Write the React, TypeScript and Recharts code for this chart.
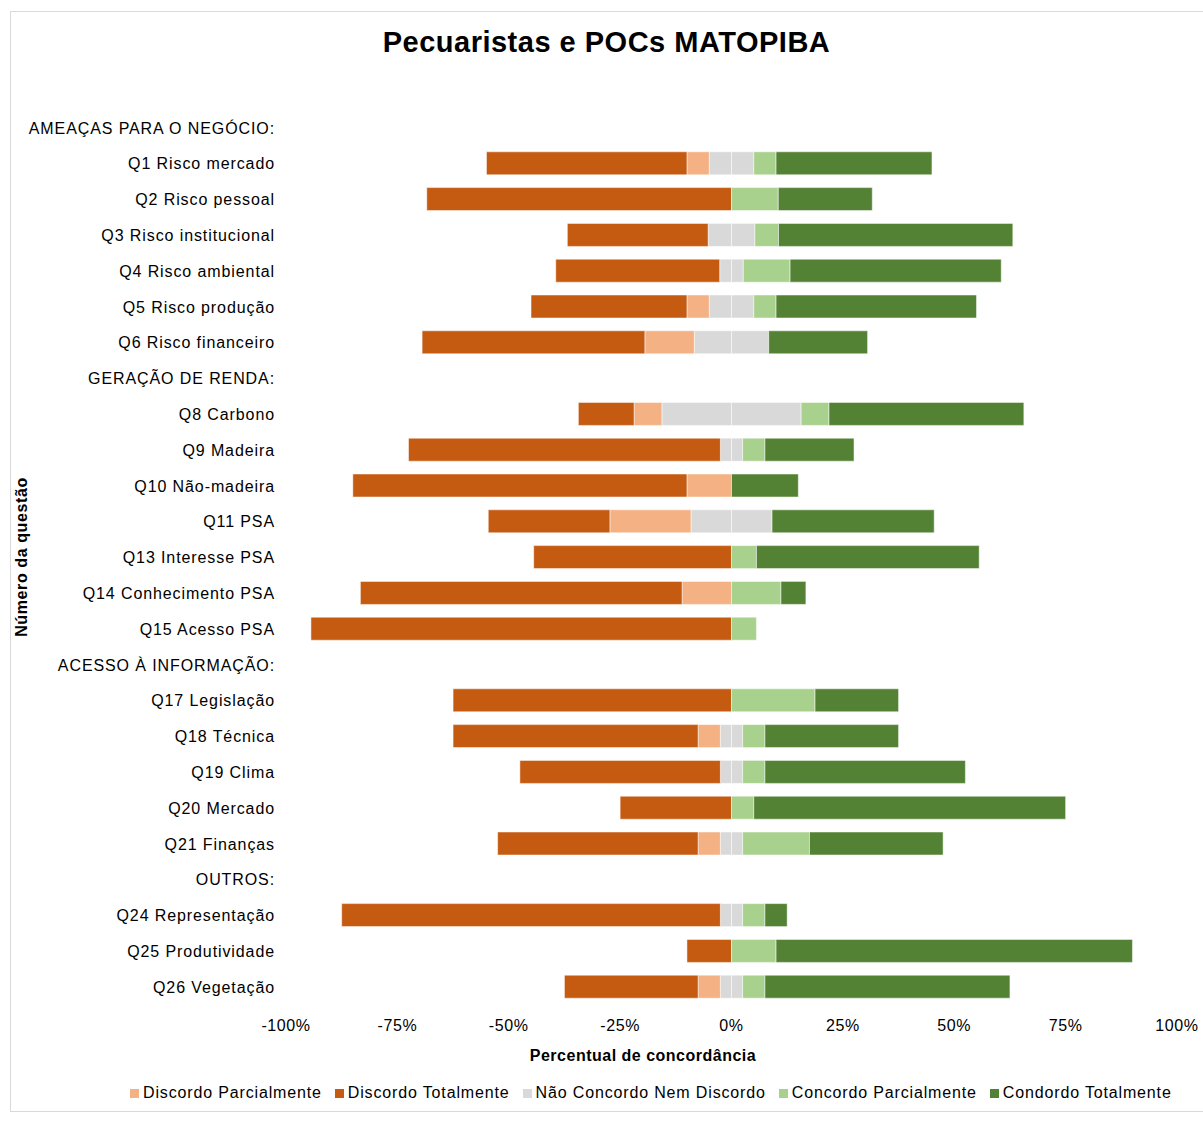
import { BarChart, Bar, XAxis, YAxis } from 'recharts';

const FONT = "'Liberation Sans', Arial, sans-serif";

const categories = [
  'AMEAÇAS PARA O NEGÓCIO:',
  'Q1 Risco mercado',
  'Q2 Risco pessoal',
  'Q3 Risco institucional',
  'Q4 Risco ambiental',
  'Q5 Risco produção',
  'Q6 Risco financeiro',
  'GERAÇÃO DE RENDA:',
  'Q8 Carbono',
  'Q9 Madeira',
  'Q10 Não-madeira',
  'Q11 PSA',
  'Q13 Interesse PSA',
  'Q14 Conhecimento PSA',
  'Q15 Acesso PSA',
  'ACESSO À INFORMAÇÃO:',
  'Q17 Legislação',
  'Q18 Técnica',
  'Q19 Clima',
  'Q20 Mercado',
  'Q21 Finanças',
  'OUTROS:',
  'Q24 Representação',
  'Q25 Produtividade',
  'Q26 Vegetação',
];

// percentages per question (section header rows have no data)
const discordoTotalmente = [null, 45, 68.4, 31.6, 36.8, 35, 50, null, 12.5, 70, 75, 27.3, 44.4, 72.2, 94.4, null, 62.5, 55, 45, 25, 45, null, 85, 10, 30];
const discordoParcialmente = [null, 5, 0, 0, 0, 5, 11.1, null, 6.25, 0, 10, 18.2, 0, 11.1, 0, null, 0, 5, 0, 0, 5, null, 0, 0, 5];
const neutro = [null, 10, 0, 10.5, 5.3, 10, 16.7, null, 31.25, 5, 0, 18.2, 0, 0, 0, null, 0, 5, 5, 0, 5, null, 5, 0, 5];
const concordoParcialmente = [null, 5, 10.5, 5.3, 10.5, 5, 0, null, 6.25, 5, 0, 0, 5.6, 11.1, 5.6, null, 18.75, 5, 5, 5, 15, null, 5, 10, 5];
const concordoTotalmente = [null, 35, 21.1, 52.6, 47.4, 45, 22.2, null, 43.75, 20, 15, 36.4, 50, 5.6, 0, null, 18.75, 30, 45, 70, 30, null, 5, 80, 55];

const xTicks = [-100, -75, -50, -25, 0, 25, 50, 75, 100];

const COLORS = {
  dp: '#F4B183',
  dt: '#C55A11',
  nt: '#D9D9D9',
  cp: '#A9D18E',
  ct: '#548235',
};

const legendItems = [
  { name: 'Discordo Parcialmente', color: COLORS.dp },
  { name: 'Discordo Totalmente', color: COLORS.dt },
  { name: 'Não Concordo Nem Discordo', color: COLORS.nt },
  { name: 'Concordo Parcialmente', color: COLORS.cp },
  { name: 'Condordo Totalmente', color: COLORS.ct },
];

const data = categories.map((name, i) => {
  const n = neutro[i] ?? 0;
  return {
    name,
    ntL: -n / 2,
    dp: -(discordoParcialmente[i] ?? 0),
    dt: -(discordoTotalmente[i] ?? 0),
    ntR: n / 2,
    cp: concordoParcialmente[i] ?? 0,
    ct: concordoTotalmente[i] ?? 0,
  };
});

function CategoryTick({ x, y, payload }: any) {
  return (
    <text
      x={x}
      y={y}
      dy="0.36em"
      textAnchor="end"
      fill="#000"
      style={{ fontFamily: FONT, fontSize: 16, letterSpacing: 0.9 }}
    >
      {payload.value}
    </text>
  );
}

export default function App() {
  const barProps = {
    stackId: 'a',
    isAnimationActive: false,
    stroke: '#fff',
    strokeWidth: 0.5,
  };

  return (
    <div
      style={{
        position: 'absolute',
        left: 0,
        top: 0,
        width: 1203,
        height: 1121,
        overflow: 'hidden',
        background: '#fff',
        fontFamily: FONT,
      }}
    >
      <div
        style={{
          position: 'absolute',
          left: 10,
          top: 11,
          width: 1220,
          height: 1099,
          border: '1px solid #D9D9D9',
        }}
      />
      <div
        style={{
          position: 'absolute',
          left: 10,
          width: 1193,
          top: 28,
          textAlign: 'center',
          fontSize: 29,
          fontWeight: 'bold',
          lineHeight: 1,
          letterSpacing: 0.5,
        }}
      >
        Pecuaristas e POCs MATOPIBA
      </div>

      <div style={{ position: 'absolute', left: 0, top: 0 }}>
        <BarChart
          width={1203}
          height={1121}
          data={data}
          layout="vertical"
          stackOffset="sign"
          barSize={23}
          margin={{ top: 110, right: 26, bottom: 0, left: 0 }}
        >
          <XAxis
            type="number"
            domain={[-100, 100]}
            ticks={xTicks}
            tickFormatter={(v: number) => `${v}%`}
            axisLine={false}
            tickLine={false}
            tickMargin={9}
            height={116}
            tick={{ fill: '#000', fontSize: 16, fontFamily: FONT, letterSpacing: 0.6 } as any}
          />
          <YAxis
            type="category"
            dataKey="name"
            width={286}
            interval={0}
            axisLine={false}
            tickLine={false}
            tickMargin={5}
            tick={<CategoryTick />}
          />
          <Bar dataKey="ntL" fill={COLORS.nt} {...barProps} />
          <Bar dataKey="dp" fill={COLORS.dp} {...barProps} />
          <Bar dataKey="dt" fill={COLORS.dt} {...barProps} />
          <Bar dataKey="ntR" fill={COLORS.nt} {...barProps} />
          <Bar dataKey="cp" fill={COLORS.cp} {...barProps} />
          <Bar dataKey="ct" fill={COLORS.ct} {...barProps} />
        </BarChart>
      </div>

      <div
        style={{
          position: 'absolute',
          left: 22,
          top: 557,
          transform: 'translate(-50%, -50%) rotate(-90deg)',
          whiteSpace: 'nowrap',
          fontSize: 16,
          fontWeight: 'bold',
          lineHeight: 1,
          letterSpacing: 0.6,
        }}
      >
        Número da questão
      </div>

      <div
        style={{
          position: 'absolute',
          left: 443,
          width: 400,
          top: 1048,
          textAlign: 'center',
          fontSize: 16,
          fontWeight: 'bold',
          lineHeight: 1,
          letterSpacing: 0.5,
        }}
      >
        Percentual de concordância
      </div>

      <div
        style={{
          position: 'absolute',
          left: 130,
          top: 1085,
          display: 'flex',
          alignItems: 'center',
          whiteSpace: 'nowrap',
          fontSize: 16,
          lineHeight: 1,
          letterSpacing: 0.85,
        }}
      >
        {legendItems.map((item) => (
          <div key={item.name} style={{ display: 'flex', alignItems: 'center', marginRight: 13 }}>
            <span style={{ width: 9, height: 9, background: item.color, marginRight: 4 }} />
            <span>{item.name}</span>
          </div>
        ))}
      </div>
    </div>
  );
}
